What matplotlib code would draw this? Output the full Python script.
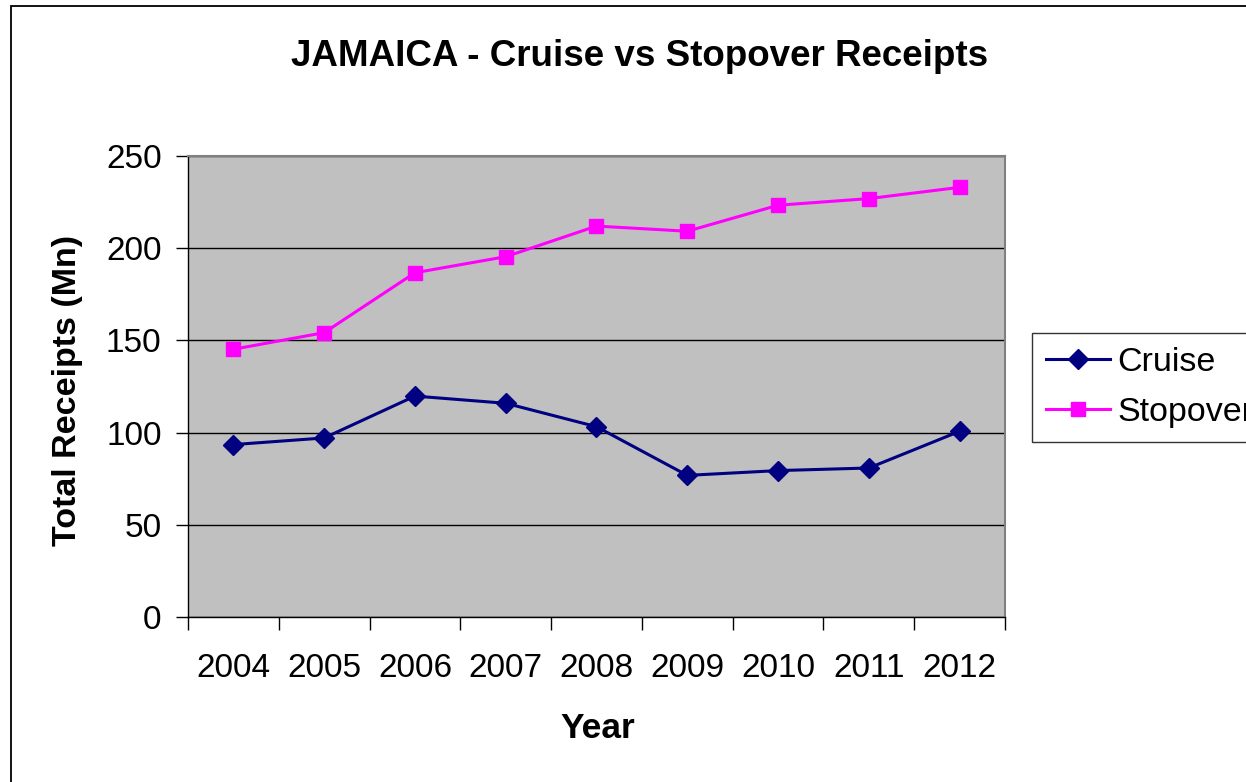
import numpy as np
import matplotlib
matplotlib.use('Agg')
import matplotlib.pyplot as plt
from matplotlib.patches import Rectangle

years = ['2004', '2005', '2006', '2007', '2008', '2009', '2010', '2011', '2012']
cruise = [93.5, 97.1, 119.8, 115.9, 103.2, 76.8, 79.4, 80.8, 100.7]
stopover = [145.2, 154.2, 186.7, 195.4, 212.0, 209.2, 223.3, 226.9, 233.0]

plt.rcParams['font.family'] = ['Liberation Sans', 'DejaVu Sans']

fig = plt.figure(figsize=(12.46, 7.82), dpi=100)
W, H = 1246, 782
# chart area border (cut off on the right and bottom like the original)
fig.patches.append(Rectangle((10.5 / W, -0.1), 1.2, 1 - 6 / H + 0.1, transform=fig.transFigure,
                             fill=False, edgecolor='black', lw=1.3))

ax = fig.add_axes([188 / W, 1 - 617 / H, (1005 - 188) / W, (617 - 156) / H])
ax.set_facecolor('#C0C0C0')
x = np.arange(len(years))

ax.plot(x, cruise, color='#000080', lw=2.2, marker='D', ms=10, label='Cruise', zorder=3)
ax.plot(x, stopover, color='#FF00FF', lw=2.2, marker='s', ms=10.5, label='Stopover', zorder=3)

ax.set_xlim(-0.5, len(years) - 0.5)
ax.set_ylim(0, 250)
ax.set_yticks(np.arange(0, 251, 50))
ax.yaxis.grid(True, color='black', lw=1)
ax.set_axisbelow(True)

# category boundaries get the ticks, labels sit between them
ax.set_xticks(np.arange(-0.5, len(years), 1))
ax.set_xticklabels([])
ax.set_xticks(x, minor=True)
ax.set_xticklabels(years, minor=True, fontsize=24)
ax.tick_params(axis='x', which='major', direction='out', length=9, width=1, color='black')
ax.tick_params(axis='x', which='minor', length=0, pad=26)
ax.tick_params(axis='y', direction='out', length=9, width=1, labelsize=24, pad=10)

for s in ['top', 'right']:
    ax.spines[s].set_color('#808080')
    ax.spines[s].set_linewidth(1.5)
for s in ['left', 'bottom']:
    ax.spines[s].set_color('black')
    ax.spines[s].set_linewidth(1)

fig.text(640 / W, 1 - 56 / H, 'JAMAICA - Cruise vs Stopover Receipts', ha='center', va='center',
         fontsize=26.5, fontweight='bold')
fig.text(598 / W, 1 - 729 / H, 'Year', ha='center', va='center', fontsize=25.5, fontweight='bold')
fig.text(68 / W, 1 - 390 / H, 'Total Receipts (Mn)', ha='center', va='center', rotation=90,
         fontsize=24.5, fontweight='bold')

leg = ax.legend(loc='upper left', bbox_to_anchor=(1032 / W, 1 - 333 / H), bbox_transform=fig.transFigure,
                borderaxespad=0, fontsize=24.5, frameon=True, fancybox=False, handlelength=1.9,
                handletextpad=0.2, borderpad=0.4, labelspacing=0.58)
leg.get_frame().set_edgecolor('black')
leg.get_frame().set_linewidth(1)

fig.savefig('out.png', dpi=100)
